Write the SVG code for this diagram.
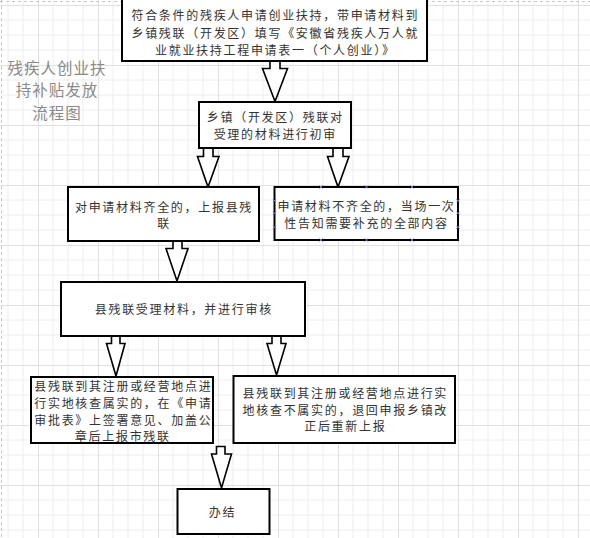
<svg xmlns="http://www.w3.org/2000/svg" width="590" height="538" viewBox="0 0 590 538">
<style>
.box{fill:#fff;stroke:#000;stroke-width:2}
.arr{fill:#fff;stroke:#000;stroke-width:1.6;stroke-linejoin:miter}
.t{font-family:"Noto Sans CJK SC","Noto Sans",sans-serif;font-size:12px;fill:#333;text-anchor:middle;letter-spacing:1.7px}
.title{font-family:"Noto Sans CJK SC","Noto Sans",sans-serif;font-size:15.5px;fill:#8a8a8a;text-anchor:middle;letter-spacing:1px}
.h{stroke:#6b6bd6;stroke-width:1}
</style>
<defs>
<pattern id="grid" x="38" y="5" width="60" height="60" patternUnits="userSpaceOnUse">
<path d="M15,0V60M30,0V60M45,0V60M0,15H60M0,30H60M0,45H60" stroke="#eeeeee" stroke-width="1" fill="none"/>
<path d="M0.5,0V60M0,0.5H60" stroke="#e0e0e0" stroke-width="1" fill="none"/>
</pattern>
</defs>
<rect x="0" y="0" width="590" height="538" fill="#fff"/>
<rect x="0" y="0" width="590" height="538" fill="url(#grid)"/>
<path d="M1.5,0V538M0,1.5H590" stroke="#c8c8c8" stroke-width="1" stroke-dasharray="3,3" fill="none"/>

<g id="title">
<text class="title" x="57" y="74">残疾人创业扶</text>
<text class="title" x="57" y="96">持补贴发放</text>
<text class="title" x="57" y="119">流程图</text>
</g>

<g id="connectors">
<path class="arr" d="M270,61V68.5H262.5L275,101.5L287.5,68.5H280V61"/>
<path class="arr" d="M203.5,148V156.5H197.5L208,187L219,156.5H213V148"/>
<path class="arr" d="M333,148V156.5H327.5L338,187L349,156.5H343V148"/>
<path class="arr" d="M173,241V248.5H166L177,281L188,248.5H182V241"/>
<path class="arr" d="M111.5,336V343.5H106.5L116,376L125,343.5H120V336"/>
<path class="arr" d="M272,336V343.5H267L276.5,375L286,343.5H281V336"/>
<path class="arr" d="M216.5,446.5V454H211.5L221.5,488L231.5,454H225V446.5Z"/>
</g>

<g id="n1">
<rect class="box" x="122" y="-1" width="305" height="62"/>
<text class="t" x="275.3" y="19.6">符合条件的残疾人申请创业扶持，带申请材料到</text>
<text class="t" x="275.3" y="37.6">乡镇残联（开发区）填写《安徽省残疾人万人就</text>
<text class="t" x="275.3" y="54.6">业就业扶持工程申请表一（个人创业）》</text>
</g>

<g id="n2">
<rect class="box" x="199" y="102" width="152" height="46"/>
<text class="t" x="275.3" y="122">乡镇（开发区）残联对</text>
<text class="t" x="275.3" y="139">受理的材料进行初审</text>
</g>

<g id="n3">
<rect class="box" x="68" y="187" width="191" height="54"/>
<text class="t" x="164" y="211.5">对申请材料齐全的，上报县残</text>
<text class="t" x="164" y="228">联</text>
</g>

<g id="n4">
<rect class="box" x="274.5" y="187" width="183.5" height="53"/>
<text class="t" x="366.5" y="210.5">申请材料不齐全的，当场一次</text>
<text class="t" x="366.5" y="227.5">性告知需要补充的全部内容</text>
<path class="h" d="M319.5,185.5l3,3m0,-3l-3,3M365,185.5l3,3m0,-3l-3,3M410.5,185.5l3,3m0,-3l-3,3M319.5,238.5l3,3m0,-3l-3,3M365,238.5l3,3m0,-3l-3,3M410.5,238.5l3,3m0,-3l-3,3M273,199.2l3,3m0,-3l-3,3M273,211.8l3,3m0,-3l-3,3M273,225.8l3,3m0,-3l-3,3M456.5,199.2l3,3m0,-3l-3,3M456.5,211.8l3,3m0,-3l-3,3M456.5,225.8l3,3m0,-3l-3,3"/>
</g>

<g id="n5">
<rect class="box" x="61" y="282" width="244" height="54"/>
<text class="t" x="183.8" y="314">县残联受理材料，并进行审核</text>
</g>

<g id="n6">
<rect class="box" x="31" y="377" width="182" height="66"/>
<text class="t" x="123.3" y="391.3">县残联到其注册或经营地点进</text>
<text class="t" x="123.3" y="408">行实地核查属实的，在《申请</text>
<text class="t" x="123.3" y="424.6">审批表》上签署意见、加盖公</text>
<text class="t" x="122.8" y="440.8">章后上报市残联</text>
</g>

<g id="n7">
<rect class="box" x="233.5" y="376" width="221.5" height="67"/>
<text class="t" x="345.3" y="398">县残联到其注册或经营地点进行实</text>
<text class="t" x="345.3" y="414.6">地核查不属实的，退回申报乡镇改</text>
<text class="t" x="345.3" y="431.3">正后重新上报</text>
</g>

<g id="n8">
<rect class="box" x="177.5" y="489" width="92" height="45"/>
<text class="t" x="222.5" y="517">办结</text>
</g>
</svg>
